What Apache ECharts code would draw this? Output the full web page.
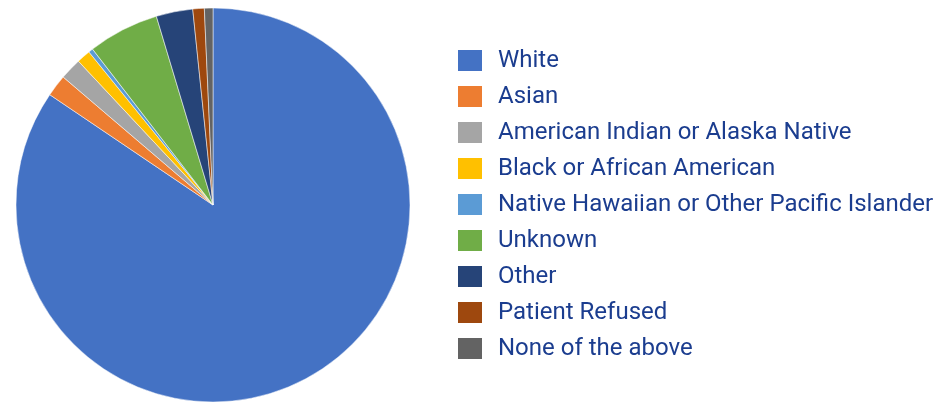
<!DOCTYPE html>
<html>
<head>
<meta charset="utf-8">
<script src="https://cdn.jsdelivr.net/npm/echarts@6/dist/echarts.min.js"></script>
<style>html,body{margin:0;padding:0;background:#fff;}#c{width:938px;height:406px;}</style>
</head>
<body>
<div id="c"></div>
<script>
const categories = ["White","Asian","American Indian or Alaska Native","Black or African American","Native Hawaiian or Other Pacific Islander","Unknown","Other","Patient Refused","None of the above"];
const values = [84.45, 1.79, 1.78, 1.13, 0.37, 5.83, 3.0, 0.94, 0.70];
const colors = ["#4472C4","#ED7D31","#A5A5A5","#FFC000","#5B9BD5","#70AD47","#264478","#9E480E","#636363"];

const chart = echarts.init(document.getElementById('c'), null, {renderer:'canvas'});
chart.setOption({
  animation: false,
  color: colors,
  legend: {
    orient: 'vertical',
    left: 456,
    top: 48,
    padding: 0,
    itemWidth: 26,
    itemHeight: 23,
    itemGap: 11,
    icon: 'rect',
    data: categories,
    textStyle: {fontFamily: 'Roboto', fontSize: 24, lineHeight: 23, color: '#1b3d8f', padding: [0,0,0,10]}
  },
  series: [{
    type: 'pie',
    center: [213, 205],
    radius: [0, 197],
    startAngle: 90,
    clockwise: true,
    label: {show: false},
    labelLine: {show: false},
    itemStyle: {borderColor: '#ffffff', borderWidth: 0.5},
    emphasis: {disabled: true},
    data: categories.map((n,i)=>({name:n, value:values[i]}))
  }]
});
</script>
</body>
</html>
